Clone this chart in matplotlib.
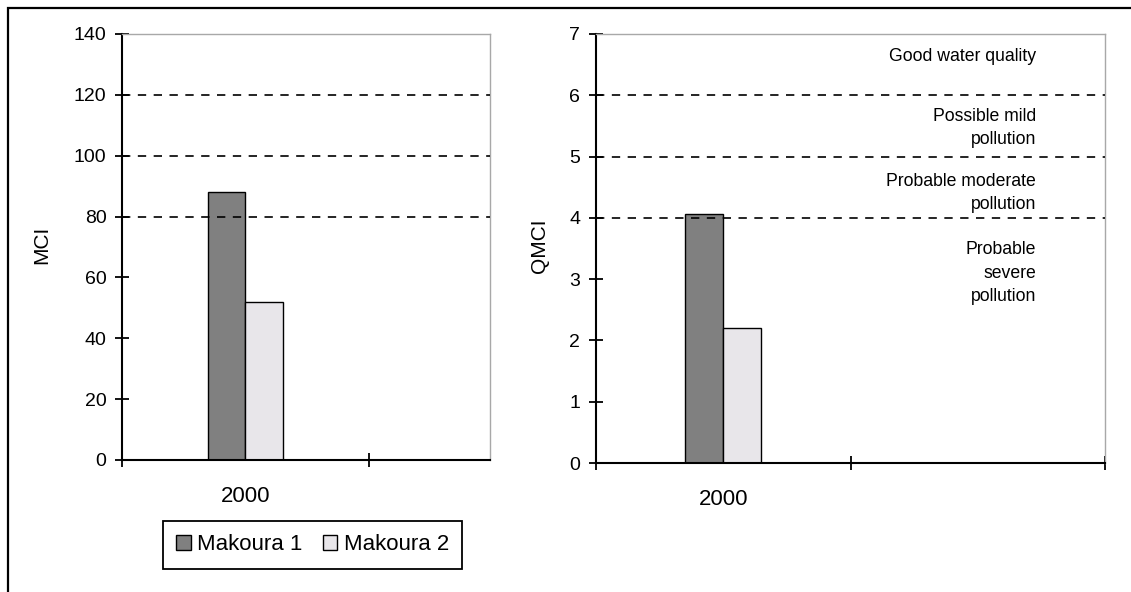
import matplotlib
matplotlib.use("Agg")
import matplotlib.pyplot as plt
from matplotlib.patches import Patch, Rectangle
from matplotlib.transforms import blended_transform_factory

# ---- data ----
categories = ["2000"]
series_names = ["Makoura 1", "Makoura 2"]
mci_values = [88, 52]
qmci_values = [4.06, 2.2]
mci_thresholds = [80, 100, 120]
qmci_thresholds = [4, 5, 6]
quality_labels = [
    (6.625, ["Good water quality"]),
    (5.467, ["Possible mild", "pollution"]),
    (4.406, ["Probable moderate", "pollution"]),
    (3.10, ["Probable", "severe", "pollution"]),
]
series_colors = ["#808080", "#e8e6ea"]

plt.rcParams["font.family"] = ["Liberation Sans", "DejaVu Sans"]

W, H = 1131, 592
fig = plt.figure(figsize=(W / 100, H / 100), dpi=100)

def fx(px):
    return px / W

def fy(py):
    return 1 - py / H

ax1 = fig.add_axes([fx(122), fy(460), fx(490) - fx(122), fy(34) - fy(460)])
ax2 = fig.add_axes([fx(596), fy(463), fx(1105) - fx(596), fy(34) - fy(463)])

bw = 0.15
offs = [-0.075, 0.075]

def style(ax, ylim, yticks, xlim, xticks):
    ax.set_ylim(*ylim)
    ax.set_xlim(*xlim)
    ax.set_yticks(yticks)
    ax.set_xticks(xticks)
    ax.set_xticklabels([])
    ax.set_xticks([0.5], minor=True)
    ax.set_xticklabels(categories, minor=True, fontsize=16)
    ax.tick_params(axis="x", which="minor", length=0, pad=19)
    ax.tick_params(axis="both", which="major", direction="inout", length=9.5,
                   width=1.3, labelsize=14, pad=6.5, colors="black")
    for s in ["left", "bottom"]:
        ax.spines[s].set_color("black")
        ax.spines[s].set_linewidth(1.5)
    for s in ["top", "right"]:
        ax.spines[s].set_color("#a8a8a8")
        ax.spines[s].set_linewidth(1.0)
    ax.set_zorder(1)

dash = (0, (5, 4.5))

# left panel
style(ax1, (0, 140), range(0, 141, 20), (0, 1.49), [0, 1])
for y in mci_thresholds:
    ax1.axhline(y, color="black", linestyle=dash, linewidth=1.2, zorder=3)
for i, v in enumerate(mci_values):
    ax1.bar(0.5 + offs[i], v, width=bw, color=series_colors[i], edgecolor="black",
            linewidth=1.0, zorder=2)

# right panel
style(ax2, (0, 7), range(0, 8), (0, 2), [0, 1, 2])
for y in qmci_thresholds:
    ax2.axhline(y, color="black", linestyle=dash, linewidth=1.2, zorder=3)
for i, v in enumerate(qmci_values):
    ax2.bar(0.5 + offs[i], v, width=bw, color=series_colors[i], edgecolor="black",
            linewidth=1.0, zorder=2)

# axis titles
fig.text(fx(42), fy(245), "MCI", rotation=90, ha="center", va="center", fontsize=15)
fig.text(fx(539), fy(246), "QMCI", rotation=90, ha="center", va="center", fontsize=15)

tr = blended_transform_factory(ax2.transAxes, ax2.transData)
line_step = 23.5 / 61.3
for ycen, lines in quality_labels:
    n = len(lines)
    start = ycen + (n - 1) * line_step / 2
    for k, ln in enumerate(lines):
        ax2.text((1036 - 596) / (1105 - 596), start - k * line_step, ln, transform=tr,
                 ha="right", va="center", fontsize=12.7, color="black")

# legend
handles = [Patch(facecolor=series_colors[i], edgecolor="black", linewidth=1.0,
                 label=series_names[i]) for i in range(2)]
leg = fig.legend(handles=handles, loc="center", bbox_to_anchor=(fx(312.5), fy(545)),
                 ncol=2, fontsize=16, frameon=True, fancybox=False,
                 handlelength=0.65, handleheight=0.65, handletextpad=0.3,
                 columnspacing=0.9, borderpad=0.6, borderaxespad=0,
                 edgecolor="black", framealpha=1)
leg.get_frame().set_linewidth(1.3)

# outer border
fig.patches.append(Rectangle((fx(8), -0.2), 1.2, fy(8) + 0.2, transform=fig.transFigure,
                             fill=False, edgecolor="black", linewidth=1.6))

fig.savefig("out.png", dpi=100)
